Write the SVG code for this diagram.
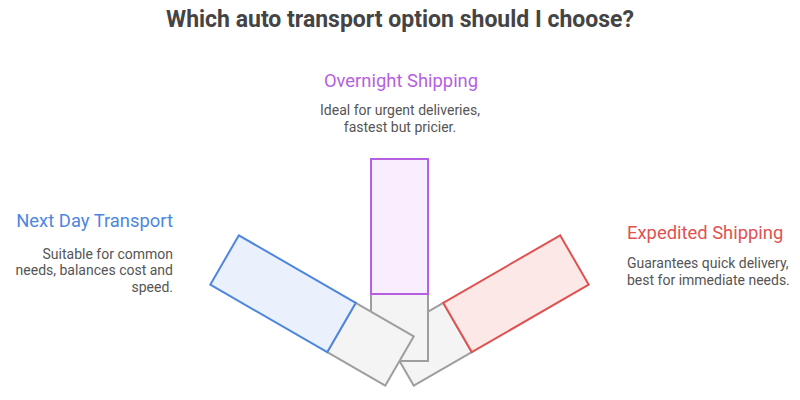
<svg xmlns="http://www.w3.org/2000/svg" width="800" height="400" viewBox="0 0 800 400">
<style>
.t{font-family:Roboto,"Liberation Sans",sans-serif}
.title{font-size:23px;font-weight:bold;fill:#444444}
.h{font-size:18.4px}
.d{font-size:14px;fill:#555555}
.g{fill:#F4F4F4;stroke:#9E9E9E;stroke-width:2}
</style>
<rect width="800" height="400" fill="#ffffff"/>
<text class="t title" x="400" y="27" text-anchor="middle">Which auto transport option should I choose?</text>
<g id="expedited-shipping">
<g transform="rotate(60 399.5 361)">
<rect class="g" x="371" y="294" width="57" height="67"/>
<rect x="371" y="159" width="57" height="135" fill="#FDE8E8" stroke="#E05252" stroke-width="2"/>
</g>
<text class="t h" x="627" y="239" fill="#E05252">Expedited Shipping</text>
<text class="t d" x="627" y="268">Guarantees quick delivery,</text>
<text class="t d" x="627" y="285">best for immediate needs.</text>
</g>
<g id="overnight-shipping">
<rect class="g" x="371" y="294" width="57" height="67"/>
<rect x="371" y="159" width="57" height="135" fill="#F9EEFD" stroke="#B65FE0" stroke-width="2"/>
<text class="t h" x="401" y="87" text-anchor="middle" fill="#B65FE0">Overnight Shipping</text>
<text class="t d" x="400" y="115" text-anchor="middle">Ideal for urgent deliveries,</text>
<text class="t d" x="400" y="132" text-anchor="middle">fastest but pricier.</text>
</g>
<g id="next-day-transport">
<g transform="rotate(-60 399.5 361)">
<rect class="g" x="371" y="294" width="57" height="67"/>
<rect x="371" y="159" width="57" height="135" fill="#EAF1FC" stroke="#4E86DF" stroke-width="2"/>
</g>
<text class="t h" x="173" y="227" text-anchor="end" fill="#4E86DF">Next Day Transport</text>
<text class="t d" x="173" y="259" text-anchor="end">Suitable for common</text>
<text class="t d" x="173" y="275" text-anchor="end">needs, balances cost and</text>
<text class="t d" x="173" y="292" text-anchor="end">speed.</text>
</g>
<g id="connectors"></g>
</svg>
